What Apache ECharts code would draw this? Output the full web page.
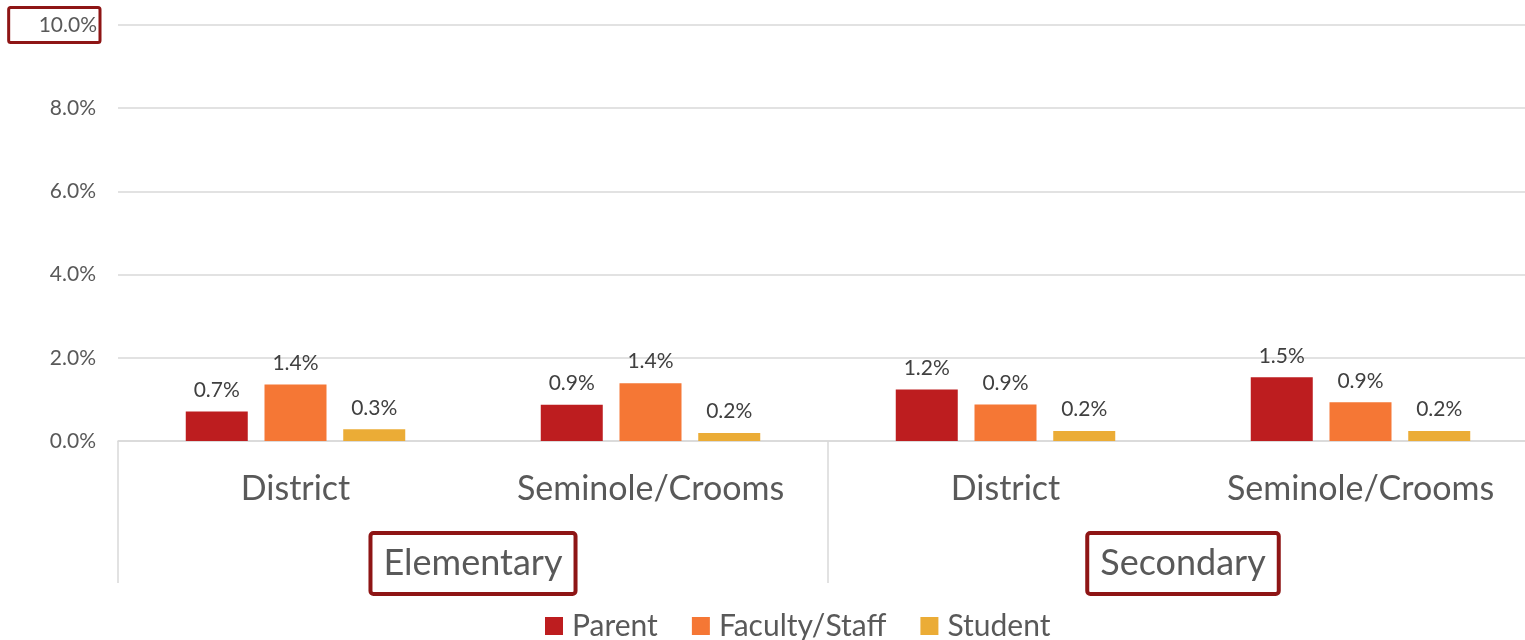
<!DOCTYPE html>
<html><head><meta charset="utf-8">
<script src="https://cdn.jsdelivr.net/npm/echarts@6/dist/echarts.min.js"></script>
<style>html,body{margin:0;padding:0;background:#fff}#c{width:1525px;height:640px}</style>
</head><body><div id="c"></div>
<script>
const categories = ['District', 'Seminole/Crooms', 'District', 'Seminole/Crooms'];
const groups = ['Elementary', 'Secondary'];
const seriesNames = ['Parent', 'Faculty/Staff', 'Student'];
const parent = [0.71, 0.87, 1.24, 1.53];
const faculty = [1.36, 1.39, 0.88, 0.93];
const student = [0.28, 0.19, 0.24, 0.24];
const colors = ['#BD1D1F', '#F57735', '#EBAC36'];
const FONT = 'Lato';

const chart = echarts.init(document.getElementById('c'));
const mk = (name, data, i) => ({
  name, type: 'bar', data, barWidth: 62, barGap: '27%',
  itemStyle: { color: colors[i] },
  label: { show: true, position: 'top', distance: 11, fontFamily: FONT, fontSize: 21, color: '#404040',
    formatter: p => p.value.toFixed(1) + '%' }
});
chart.setOption({
  animation: false,
  textStyle: { fontFamily: FONT },
  color: colors,
  grid: { left: 118, top: 25, width: 1420, height: 416, outerBoundsMode: 'none', containLabel: false },
  legend: {
    bottom: -6, left: 540, icon: 'rect', itemWidth: 18, itemHeight: 18, itemGap: 34,
    textStyle: { fontFamily: FONT, fontSize: 30, color: '#595959', padding: [0, 0, 0, 4] },
    data: seriesNames
  },
  xAxis: [
    { type: 'category', data: categories, position: 'bottom',
      axisLine: { lineStyle: { color: '#d9d9d9', width: 1.5 } }, axisTick: { show: false },
      axisLabel: { fontFamily: FONT, fontSize: 34, color: '#595959', margin: 31 } },
    { type: 'category', data: groups, position: 'bottom',
      axisLine: { show: false },
      axisTick: { show: true, length: 142, interval: 0, lineStyle: { color: '#d9d9d9', width: 1.5 } },
      axisLabel: { margin: 92, interval: 0,
        formatter: v => '{g|' + v + '}',
        rich: { g: { fontFamily: FONT, fontSize: 36, color: '#595959', borderColor: '#8E1515', borderWidth: 4,
          borderRadius: 3, padding: [12, 13, 13, 13] } } } }
  ],
  yAxis: {
    type: 'value', min: 0, max: 10, interval: 2,
    axisLine: { show: false }, axisTick: { show: false },
    splitLine: { lineStyle: { color: '#d9d9d9', width: 1.5 } },
    axisLabel: { margin: 18,
      formatter: v => v === 10 ? '{b|' + v.toFixed(1) + '%}' : '{a|' + v.toFixed(1) + '%}',
      rich: {
        a: { fontFamily: FONT, fontSize: 21, color: '#595959', padding: [0, 4, 0, 0] },
        b: { fontFamily: FONT, fontSize: 21, color: '#595959', borderColor: '#8E1515', borderWidth: 3,
          borderRadius: 2, padding: [7, 3, 7, 30] }
      } }
  },
  series: [mk(seriesNames[0], parent, 0), mk(seriesNames[1], faculty, 1), mk(seriesNames[2], student, 2)]
});
</script></body></html>
